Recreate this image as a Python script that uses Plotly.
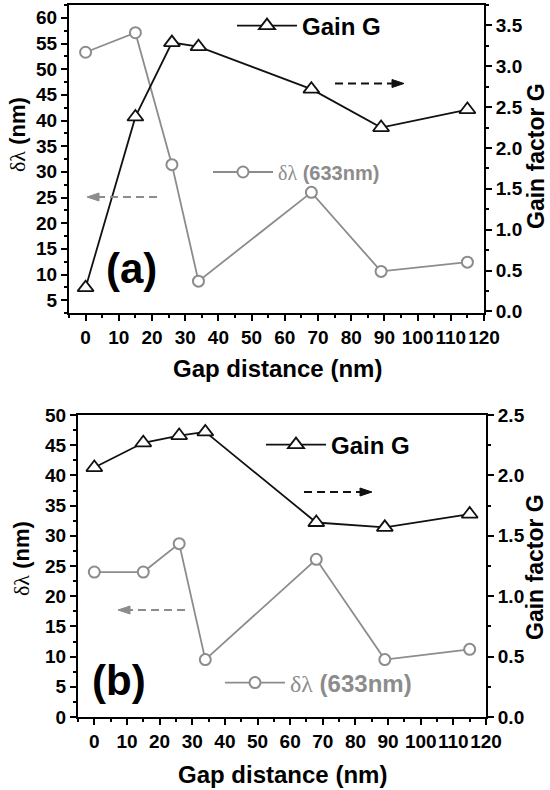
import plotly.graph_objects as go

# ---------------- data ----------------
gap_a = [0, 15, 26, 34, 68, 89, 115]
gain_a = [0.29, 2.38, 3.29, 3.24, 2.72, 2.25, 2.47]
dl_a = [53.3, 57.1, 31.4, 8.7, 26.0, 10.6, 12.4]

gap_b = [0, 15, 26, 34, 68, 89, 115]
gain_b = [2.065, 2.27, 2.33, 2.36, 1.61, 1.57, 1.68]
dl_b = [24.0, 24.0, 28.7, 9.5, 26.1, 9.5, 11.2]

W, H = 550, 790
FONT = "Liberation Sans, Arial, Helvetica, sans-serif"
SERIF = "Liberation Serif"
BLACK = "#111111"
GRAY = "#8c8c8c"


def px(x):
    return x / W


def py(y):
    return 1 - y / H


fig = go.Figure()

DL_NAME = ("<span style=\"font-family:" + SERIF + ";font-weight:normal\">\u03b4\u03bb</span> (633nm)")

fig.add_trace(go.Scatter(x=gap_a, y=dl_a, xaxis="x", yaxis="y", mode="lines+markers",
                         name=DL_NAME, legend="legend2",
                         line=dict(color=GRAY, width=1.8),
                         marker=dict(symbol="circle", size=11, color="white",
                                     line=dict(color=GRAY, width=2))))
fig.add_trace(go.Scatter(x=gap_a, y=gain_a, xaxis="x", yaxis="y2", mode="lines+markers",
                         name="Gain G", legend="legend",
                         line=dict(color=BLACK, width=1.8),
                         marker=dict(symbol="triangle-up", size=14, color="white",
                                     line=dict(color=BLACK, width=1.8))))
fig.add_trace(go.Scatter(x=gap_b, y=dl_b, xaxis="x2", yaxis="y3", mode="lines+markers",
                         name=DL_NAME, legend="legend4",
                         line=dict(color=GRAY, width=1.8),
                         marker=dict(symbol="circle", size=11, color="white",
                                     line=dict(color=GRAY, width=2))))
fig.add_trace(go.Scatter(x=gap_b, y=gain_b, xaxis="x2", yaxis="y4", mode="lines+markers",
                         name="Gain G", legend="legend3",
                         line=dict(color=BLACK, width=1.8),
                         marker=dict(symbol="triangle-up", size=14, color="white",
                                     line=dict(color=BLACK, width=1.8))))


def tf():
    return dict(family=FONT, size=19, color="black", weight="bold")


def xax(domain, anchor):
    return dict(domain=domain, anchor=anchor, range=[-5, 120], tick0=0, dtick=10,
                ticks="outside", ticklen=6, tickwidth=2, tickcolor="black",
                showline=True, linewidth=2, linecolor="black", mirror=True,
                showgrid=False, zeroline=False, tickangle=0, tickfont=tf(),
                automargin=False,
                minor=dict(ticks="outside", ticklen=3, tickwidth=1.5, tickcolor="black",
                           dtick=5, showgrid=False))


def yax(domain, anchor, rng, dtick, mdtick, side="left", overlaying=None, fmt=None):
    d = dict(domain=domain, anchor=anchor, range=rng, tick0=0, dtick=dtick, side=side,
             ticks="outside", ticklen=6, tickwidth=2, tickcolor="black",
             showline=True, linewidth=2, linecolor="black",
             showgrid=False, zeroline=False, tickfont=tf(), automargin=False,
             minor=dict(ticks="outside", ticklen=3, tickwidth=1.5, tickcolor="black",
                        dtick=mdtick, showgrid=False))
    if overlaying:
        d["overlaying"] = overlaying
    if fmt:
        d["tickformat"] = fmt
    return d


dom_xa = [px(69), px(484)]
dom_ya = [py(313), py(5)]
dom_xb = [px(78), px(486)]
dom_yb = [py(717), py(415)]


def leg(x, y, size, color):
    return dict(x=px(x), y=py(y), xanchor="left", yanchor="middle", bgcolor="rgba(0,0,0,0)",
                borderwidth=0, itemwidth=60, visible=True,
                font=dict(family=FONT, size=size, color=color, weight="bold"))


fig.update_layout(
    width=W, height=H,
    margin=dict(l=0, r=0, t=0, b=0, autoexpand=False),
    paper_bgcolor="white", plot_bgcolor="white",
    showlegend=True,
    font=dict(family=FONT, color="black"),
    xaxis=xax(dom_xa, "y"),
    yaxis=yax(dom_ya, "x", [2.5, 62.5], 5, 2.5),
    yaxis2=yax(dom_ya, "x", [-0.02, 3.75], 0.5, 0.25, side="right", overlaying="y", fmt=".1f"),
    xaxis2=xax(dom_xb, "y3"),
    yaxis3=yax(dom_yb, "x2", [0, 50], 5, 2.5),
    yaxis4=yax(dom_yb, "x2", [0, 2.5], 0.5, 0.25, side="right", overlaying="y3", fmt=".1f"),
    legend=leg(232, 26, 24, "black"),
    legend2=leg(208, 172, 20, GRAY),
    legend3=leg(261, 445, 24, "black"),
    legend4=leg(220, 683, 24, GRAY),
)

ann = []


def text(x, y, s, size, angle=0, color="black"):
    ann.append(dict(x=px(x), y=py(y), xref="paper", yref="paper", text=s, showarrow=False,
                    textangle=angle, xanchor="center", yanchor="middle",
                    font=dict(family=FONT, size=size, color=color, weight="bold")))


DL_TITLE = ("<span style=\"font-family:" + SERIF + ";font-weight:normal\">\u03b4\u03bb</span> (nm)")

text(277, 368, "Gap distance (nm)", 24)
text(282, 774, "Gap distance (nm)", 24)
text(17, 135, DL_TITLE, 22, angle=-90)
text(21, 559, DL_TITLE, 22, angle=-90)
text(536, 156, "Gain factor G", 23, angle=-90)
text(535, 567, "Gain factor G", 23, angle=-90)
text(131, 268, "(a)", 42)
text(119, 680, "(b)", 42)

shapes = []


def arrow(x0, tip, y, color):
    d = 1 if tip > x0 else -1
    hl, hh = 12, 4
    base = tip - d * hl
    shapes.append(dict(type="line", xref="paper", yref="paper",
                       x0=px(x0), x1=px(base), y0=py(y), y1=py(y),
                       line=dict(color=color, width=2, dash="8px,5px")))
    path = "M {},{} L {},{} L {},{} Z".format(px(tip), py(y), px(base), py(y - hh),
                                              px(base), py(y + hh))
    shapes.append(dict(type="path", xref="paper", yref="paper", path=path,
                       fillcolor=color, line=dict(color=color, width=1)))


arrow(335, 404, 83.5, BLACK)
arrow(157, 87, 197, GRAY)
arrow(304, 372, 492, BLACK)
arrow(185, 118, 610, GRAY)

fig.update_layout(annotations=ann, shapes=shapes)

fig.write_html("out.html", config={"displayModeBar": False},
               post_script="document.body.style.margin='0px';document.body.style.overflow='hidden';")
